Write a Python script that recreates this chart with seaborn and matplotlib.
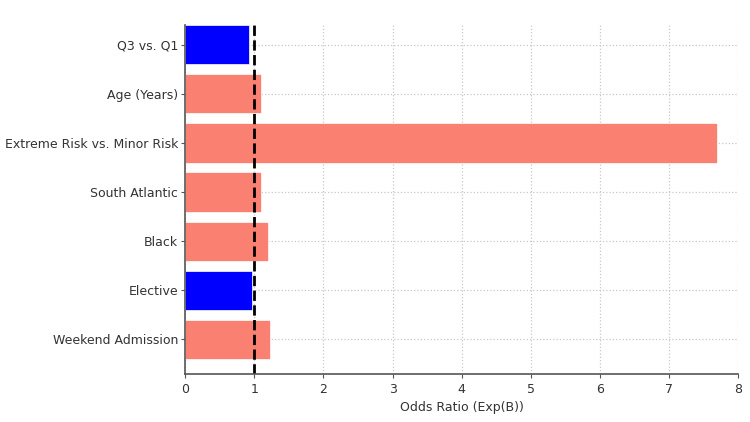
import pandas as pd
import matplotlib.pyplot as plt
import seaborn as sns

# Data
variables = ['Q3 vs. Q1', 'Age (Years)', 'Extreme Risk vs. Minor Risk',
             'South Atlantic', 'Black', 'Elective', 'Weekend Admission']
odds_ratios = [0.92, 1.09, 7.70, 1.10, 1.20, 0.96, 1.23]

data = pd.DataFrame({'Variable': variables, 'OR': odds_ratios})
data['Effect'] = ['lower' if v < 1 else 'higher' for v in data['OR']]

sns.set_style('whitegrid')
plt.rcParams['font.family'] = ['DejaVu Sans']

fig, ax = plt.subplots(figsize=(7.5, 4.22), dpi=100)
fig.subplots_adjust(left=0.247, right=0.984, top=0.941, bottom=0.114)

sns.barplot(data=data, x='OR', y='Variable', hue='Effect',
            palette={'lower': '#0000ff', 'higher': '#fa8072'},
            saturation=1, dodge=False, legend=False, width=0.8,
            edgecolor='white', linewidth=0.5, ax=ax)

ax.axvline(1, color='black', linestyle='--', linewidth=2)

ax.set_xlim(0, 8)
ax.set_ylim(6.7, -0.4)
ax.set_xlabel('Odds Ratio (Exp(B))', fontsize=9, color='#333333')
ax.set_ylabel('')
ax.tick_params(axis='both', labelsize=9, labelcolor='#333333',
               color='#555555', length=3, left=True, bottom=True)
ax.tick_params(axis='y', pad=2)

ax.grid(True, linestyle=':', color='#c8c8c8', linewidth=0.9)
ax.set_axisbelow(True)
for side in ['top', 'right']:
    ax.spines[side].set_visible(False)
for side in ['left', 'bottom']:
    ax.spines[side].set_color('#555555')
    ax.spines[side].set_linewidth(1.2)

plt.savefig('out.png', dpi=100)
